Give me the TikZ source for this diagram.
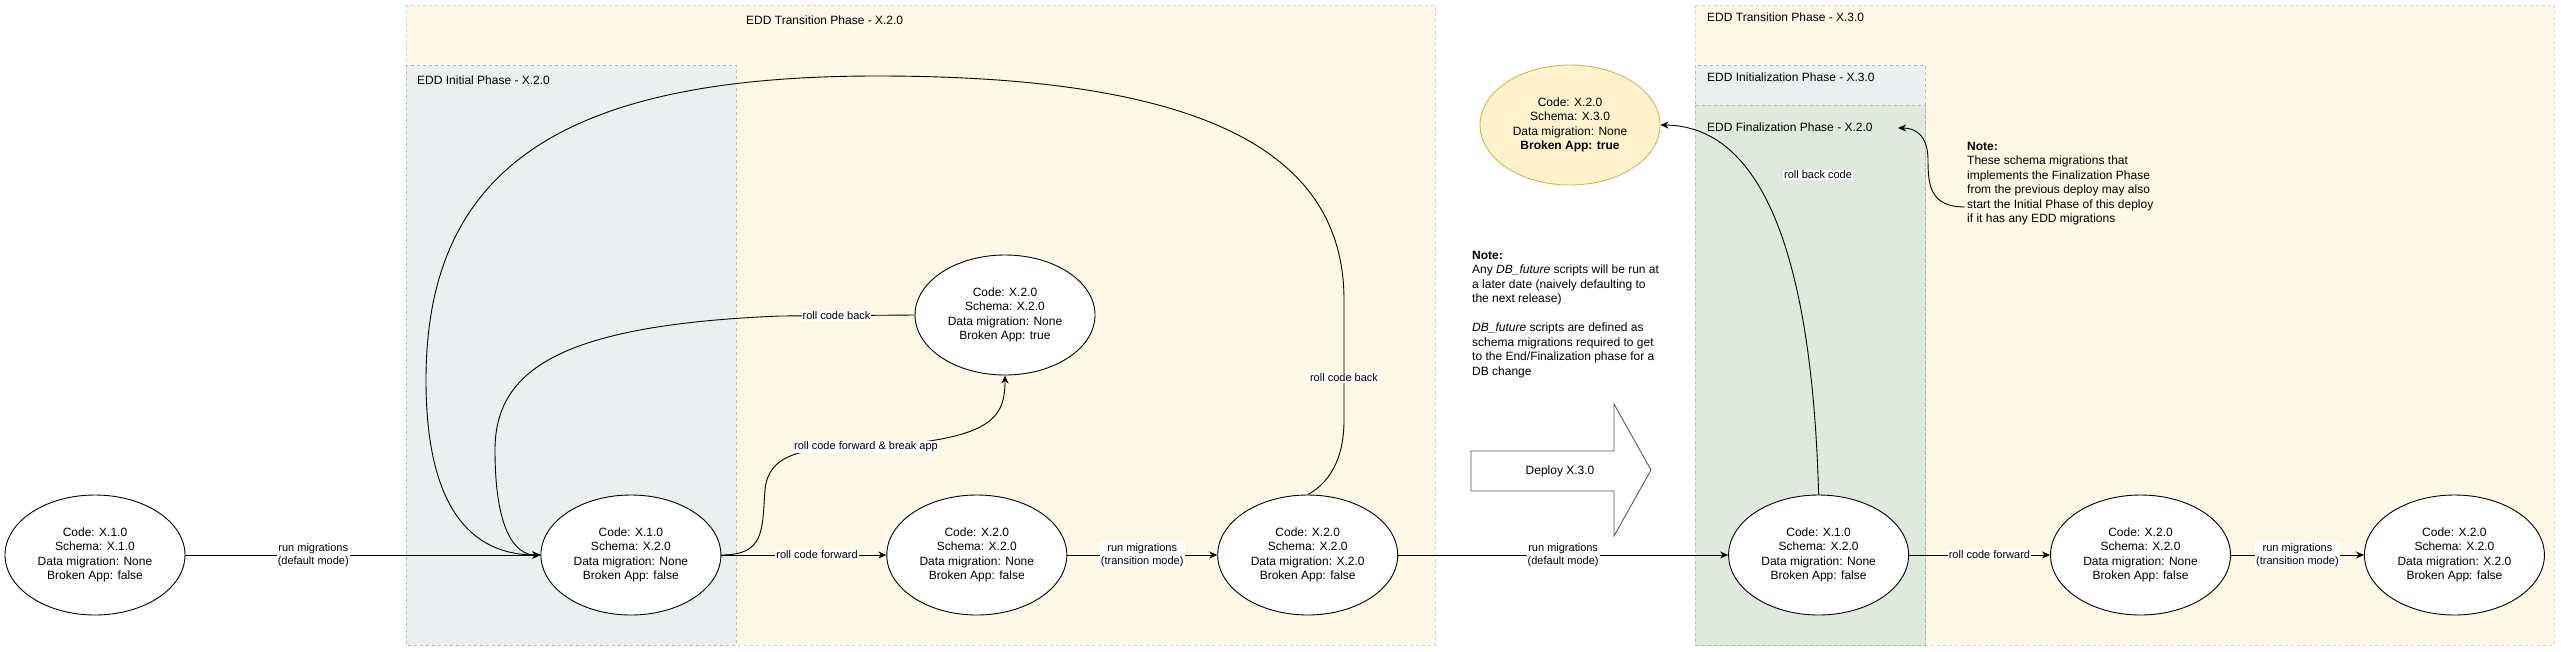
\documentclass[tikz,border=0pt]{standalone}
\usepackage{fontspec}
\setmainfont{Liberation Sans}
\usetikzlibrary{shapes.geometric, arrows.meta, positioning}
\definecolor{transfill}{RGB}{255,248,230}
\definecolor{initfill}{RGB}{235,239,240}
\definecolor{finfill}{RGB}{223,234,221}
\definecolor{yelfill}{RGB}{255,242,204}
\definecolor{yeldraw}{RGB}{214,182,86}
\tikzstyle{arrow} = [line width=0.9pt, ->, >={Stealth[length=8pt,width=7pt,inset=2.5pt]}]
\tikzstyle{state} = [ellipse, draw=black, line width=0.9pt, fill=white, minimum width=180pt, minimum height=120pt,
                     inner sep=0pt, align=center, font=\fontsize{12}{14.5}\selectfont]
\tikzstyle{lbl} = [fill=white, inner sep=1pt, align=center, font=\fontsize{11}{13}\selectfont]
\tikzstyle{phase} = [dash pattern=on 3pt off 3pt, line width=0.7pt]
\tikzstyle{phasetitle} = [anchor=west, inner sep=0pt, font=\fontsize{12}{14.5}\selectfont]
\tikzstyle{notetext} = [anchor=north west, inner sep=0pt, align=left, font=\fontsize{12}{14.5}\selectfont]

\begin{document}
\begin{tikzpicture}[x=1pt, y=-1pt]
    \useasboundingbox (0,0) rectangle (2561,651);

    % Phase containers
    \draw[phase, fill=transfill, draw=gray!35] (406,5) rectangle (1435,645);
    \draw[phase, fill=initfill, draw=gray!55] (406,65) rectangle (736,645);
    \draw[phase, fill=transfill, draw=gray!35] (1695,5) rectangle (2554,645);
    \draw[phase, fill=initfill, draw=gray!55] (1695,65) rectangle (1925,645);
    \draw[phase, fill=finfill, draw=gray!55] (1695,105) rectangle (1925,645);
    \node[phasetitle] (t1) at (746,20) {EDD Transition Phase - X.2.0};
    \node[phasetitle] (t2) at (417,80) {EDD Initial Phase - X.2.0};
    \node[phasetitle] (t3) at (1707,17) {EDD Transition Phase - X.3.0};
    \node[phasetitle] (t4) at (1707,77) {EDD Initialization Phase - X.3.0};
    \node[phasetitle] (t5) at (1707,127) {EDD Finalization Phase - X.2.0};

    % States - main row
    \node[state] (s1) at (95,555) {Code: X.1.0\\Schema: X.1.0\\Data migration: None\\Broken App: false};
    \node[state, right=355pt of s1] (s2) {Code: X.1.0\\Schema: X.2.0\\Data migration: None\\Broken App: false};
    \node[state, right=165pt of s2] (s4) {Code: X.2.0\\Schema: X.2.0\\Data migration: None\\Broken App: false};
    \node[state, right=150pt of s4] (s5) {Code: X.2.0\\Schema: X.2.0\\Data migration: X.2.0\\Broken App: false};
    \node[state, right=330pt of s5] (s6) {Code: X.1.0\\Schema: X.2.0\\Data migration: None\\Broken App: false};
    \node[state, right=141pt of s6] (s7) {Code: X.2.0\\Schema: X.2.0\\Data migration: None\\Broken App: false};
    \node[state, right=133pt of s7] (s8) {Code: X.2.0\\Schema: X.2.0\\Data migration: X.2.0\\Broken App: false};

    % Broken states
    \node[state] (b1) at (1005,315) {Code: X.2.0\\Schema: X.2.0\\Data migration: None\\Broken App: true};
    \node[state, fill=yelfill, draw=yeldraw] (b2) at (1570,125) {Code: X.2.0\\Schema: X.3.0\\Data migration: None\\\textbf{Broken App: true}};

    % Notes
    \node[notetext] (note1) at (1472,251) {\textbf{Note:}\\Any \textit{DB\_future} scripts will be run at\\a later date (naively defaulting to\\the next release)\\[14.5pt]\textit{DB\_future} scripts are defined as\\schema migrations required to get\\to the End/Finalization phase for a\\DB change};
    \node[notetext] (note2) at (1967,142) {\textbf{Note:}\\These schema migrations that\\implements the Finalization Phase\\from the previous deploy may also\\start the Initial Phase of this deploy\\if it has any EDD migrations};

    % Deploy arrow
    \draw[line width=0.9pt, draw=black!65, fill=white] (1471,451) -- (1614,451) -- (1614,404) -- (1651,470) -- (1614,536) -- (1614,491) -- (1471,491) -- cycle;
    \node[font=\fontsize{12}{14.5}\selectfont] (dep) at (1560,471) {Deploy X.3.0};

    % Straight transitions
    \draw[arrow] (s1) -- node[lbl, pos=0.36] {run migrations\\(default mode)} (s2);
    \draw[arrow] (s2) -- node[lbl, pos=0.58] {roll code forward} (s4);
    \draw[arrow] (s4) -- node[lbl] {run migrations\\(transition mode)} (s5);
    \draw[arrow] (s5) -- node[lbl] {run migrations\\(default mode)} (s6);
    \draw[arrow] (s6) -- node[lbl, pos=0.57] {roll code forward} (s7);
    \draw[arrow] (s7) -- node[lbl] {run migrations\\(transition mode)} (s8);

    % Curved transitions
    \draw[arrow] (s2.east) .. controls (765,555) and (762,530) .. (765,490) .. controls (768,455) and (800,447) .. (866,447)
        node[lbl] {roll code forward \& break app} .. controls (990,440) and (1005,420) .. (b1.south);
    \draw[arrow] (b1.west) -- node[lbl, pos=0.58] {roll code back} (780,316) .. controls (560,325) and (495,370) .. (495,450)
        .. controls (495,530) and (515,555) .. (s2.west);
    \draw[arrow] (s5.north) .. controls (1320,488) and (1344,470) .. (1344,420) -- node[lbl, pos=0.35] {roll code back} (1344,300)
        .. controls (1344,150) and (1200,76) .. (877,76) .. controls (560,76) and (426,170) .. (426,380)
        .. controls (426,520) and (480,555) .. (s2.west);
    \draw[arrow] (s6.north) .. controls (1812,250) and (1760,126) .. (b2.east);
    \node[lbl] (rbc) at (1818,175) {roll back code};

    % Note pointer
    \coordinate (c1) at (1965,207);
    \coordinate (c2) at (1898,128);
    \draw[arrow] (c1) .. controls (1930,207) and (1928,185) .. (1928,160) .. controls (1928,135) and (1915,128) .. (c2);
\end{tikzpicture}
\end{document}
